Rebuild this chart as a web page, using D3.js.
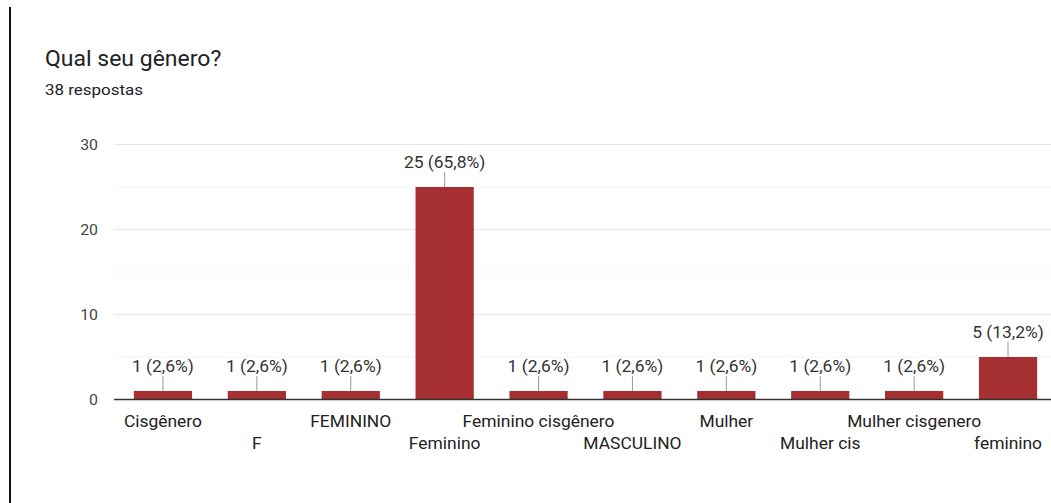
<!DOCTYPE html>
<html>
<head>
<meta charset="utf-8">
<script src="https://cdn.jsdelivr.net/npm/d3@7"></script>
<style>
  html, body { margin: 0; padding: 0; background: #fff; }
  svg { display: block; font-family: Roboto, Arial, sans-serif; }
</style>
</head>
<body>
<svg id="chart" width="1051" height="503"></svg>
<script>
// Responses to "Qual seu gênero?"
const categories = ["Cisgênero", "F", "FEMININO", "Feminino", "Feminino cisgênero",
                    "MASCULINO", "Mulher", "Mulher cis", "Mulher cisgenero", "feminino"];
const counts = [1, 1, 1, 25, 1, 1, 1, 1, 1, 5];
const percents = ["2,6", "2,6", "2,6", "65,8", "2,6", "2,6", "2,6", "2,6", "2,6", "13,2"];
const yTicks = [0, 10, 20, 30];
const yMinorTicks = [5, 15, 25];
const title = "Qual seu gênero?";
const subtitle = "38 respostas";

const svg = d3.select("#chart");
const W = 1051;

// place text at (x, y) with a slight horizontal widening of the glyphs
const place = (xf, yf, sx) => (d, i) => `translate(${xf(d, i)},${yf(d, i)}) scale(${sx},1)`;

// card edge on the left
svg.append("rect").attr("x", 9).attr("y", 7).attr("width", 2).attr("height", 496).attr("fill", "#111");

svg.append("text").attr("transform", place(() => 45, () => 66, 1.07)())
  .attr("font-size", 21.5).attr("fill", "#202124").text(title);
svg.append("text").attr("transform", place(() => 45, () => 95, 1.13)())
  .attr("font-size", 15).attr("fill", "#202124").text(subtitle);

const x = d3.scaleBand().domain(categories).range([116, 1055])
  .paddingInner(0.38).paddingOuter(0.19);
const y = d3.scaleLinear().domain([0, 30]).range([399.5, 144.5]);
const plotLeft = 114;
const cx = d => x(d) + x.bandwidth() / 2;

// gridlines
const g = svg.append("g");
g.selectAll("line.minor").data(yMinorTicks).join("line")
  .attr("x1", plotLeft).attr("x2", W).attr("y1", d => y(d)).attr("y2", d => y(d))
  .attr("stroke", "#f3f3f3").attr("stroke-width", 1);
g.selectAll("line.major").data(yTicks.filter(d => d > 0)).join("line")
  .attr("x1", plotLeft).attr("x2", W).attr("y1", d => y(d)).attr("y2", d => y(d))
  .attr("stroke", "#e6e6e6").attr("stroke-width", 1);

// y axis labels
const yAxis = d3.axisLeft(y).tickValues(yTicks).tickSize(0).tickPadding(0);
svg.append("g").attr("transform", "translate(98,0)").call(yAxis)
  .call(s => s.select(".domain").remove())
  .call(s => s.selectAll("text").attr("font-size", 15).attr("fill", "#444")
    .attr("font-family", "Roboto, Arial, sans-serif").attr("dy", "0.36em")
    .attr("transform", "scale(1.06,1)"));

// bars
svg.selectAll("rect.bar").data(categories).join("rect")
  .attr("class", "bar")
  .attr("x", d => x(d)).attr("width", x.bandwidth())
  .attr("y", (d, i) => y(counts[i])).attr("height", (d, i) => y(0) - y(counts[i]))
  .attr("fill", "#a52f31");

// leader lines and value labels
svg.selectAll("line.lead").data(categories).join("line")
  .attr("x1", cx).attr("x2", cx)
  .attr("y1", (d, i) => y(counts[i])).attr("y2", (d, i) => y(counts[i]) - 15)
  .attr("stroke", "#999").attr("stroke-width", 1);
svg.selectAll("text.val").data(categories).join("text")
  .attr("transform", place(cx, (d, i) => y(counts[i]) - 19.5, 1.09))
  .attr("text-anchor", "middle").attr("font-size", 16).attr("fill", "#333")
  .text((d, i) => `${counts[i]} (${percents[i]}%)`);

// x axis baseline
svg.append("line").attr("x1", plotLeft).attr("x2", W).attr("y1", y(0)).attr("y2", y(0))
  .attr("stroke", "#333").attr("stroke-width", 1.5);

// category labels, staggered over two rows
svg.selectAll("text.cat").data(categories).join("text")
  .attr("transform", place(cx, (d, i) => i % 2 === 0 ? 427 : 449, 1.09))
  .attr("text-anchor", "middle").attr("font-size", 16).attr("fill", "#222")
  .text(d => d);
</script>
</body>
</html>
